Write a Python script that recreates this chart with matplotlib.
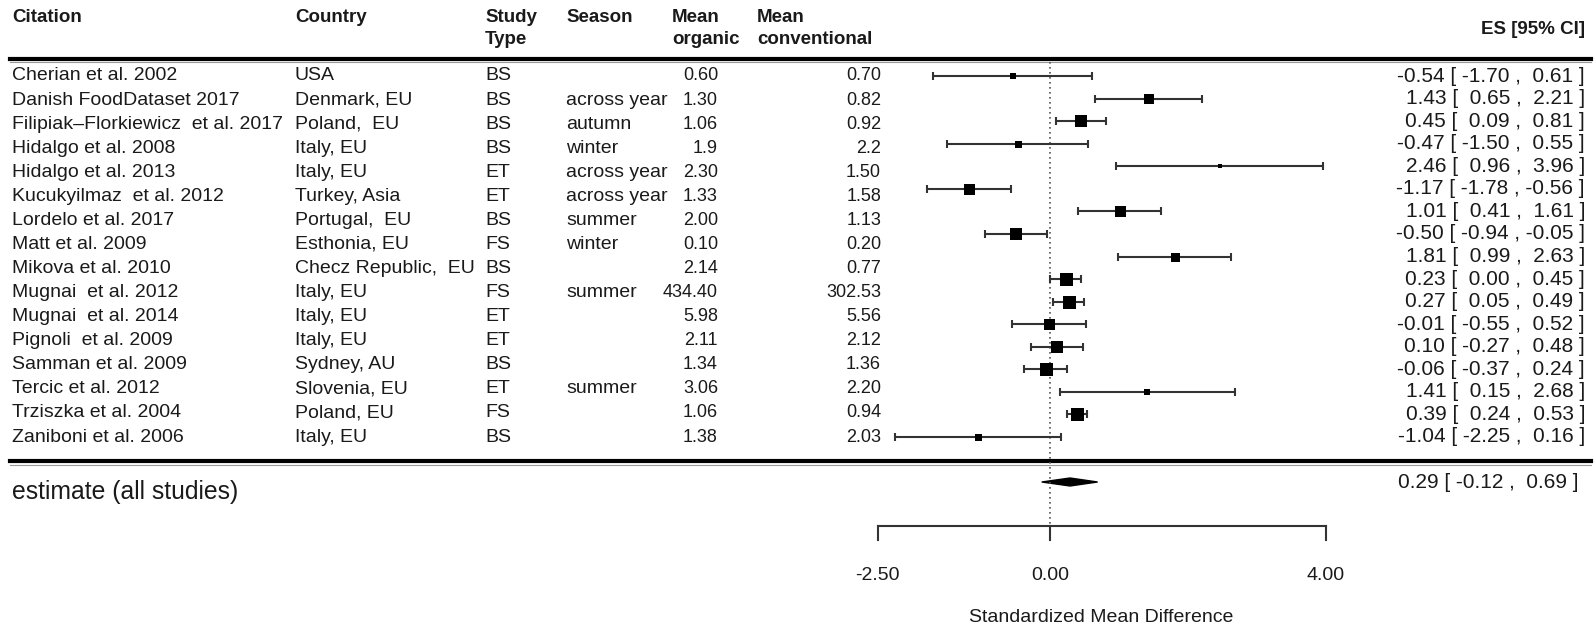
import matplotlib

matplotlib.use('Agg')
import matplotlib.pyplot as plt
from matplotlib.patches import Polygon
from matplotlib import font_manager

plt.rcParams['font.family'] = ['Liberation Sans', 'DejaVu Sans']

# ---- data ----
citation = ['Cherian et al. 2002', 'Danish FoodDataset 2017',
            'Filipiak\u2013Florkiewicz  et al. 2017', 'Hidalgo et al. 2008',
            'Hidalgo et al. 2013', 'Kucukyilmaz  et al. 2012',
            'Lordelo et al. 2017', 'Matt et al. 2009', 'Mikova et al. 2010',
            'Mugnai  et al. 2012', 'Mugnai  et al. 2014', 'Pignoli  et al. 2009',
            'Samman et al. 2009', 'Tercic et al. 2012', 'Trziszka et al. 2004',
            'Zaniboni et al. 2006']
country = ['USA', 'Denmark, EU', 'Poland,  EU', 'Italy, EU', 'Italy, EU',
           'Turkey, Asia', 'Portugal,  EU', 'Esthonia, EU',
           'Checz Republic,  EU', 'Italy, EU', 'Italy, EU', 'Italy, EU',
           'Sydney, AU', 'Slovenia, EU', 'Poland, EU', 'Italy, EU']
study_type = ['BS', 'BS', 'BS', 'BS', 'ET', 'ET', 'BS', 'FS', 'BS', 'FS',
              'ET', 'ET', 'BS', 'ET', 'FS', 'BS']
season = ['', 'across year', 'autumn', 'winter', 'across year', 'across year',
          'summer', 'winter', '', 'summer', '', '', '', 'summer', '', '']
mean_organic = ['0.60', '1.30', '1.06', '1.9', '2.30', '1.33', '2.00', '0.10',
                '2.14', '434.40', '5.98', '2.11', '1.34', '3.06', '1.06', '1.38']
mean_conventional = ['0.70', '0.82', '0.92', '2.2', '1.50', '1.58', '1.13',
                     '0.20', '0.77', '302.53', '5.56', '2.12', '1.36', '2.20',
                     '0.94', '2.03']

es = [-0.54, 1.43, 0.45, -0.47, 2.46, -1.17, 1.01, -0.50, 1.81, 0.23, 0.27,
      -0.01, 0.10, -0.06, 1.41, 0.39, -1.04]
ci_low = [-1.70, 0.65, 0.09, -1.50, 0.96, -1.78, 0.41, -0.94, 0.99, 0.00,
          0.05, -0.55, -0.27, -0.37, 0.15, 0.24, -2.25]
ci_high = [0.61, 2.21, 0.81, 0.55, 3.96, -0.56, 1.61, -0.05, 2.63, 0.45,
           0.49, 0.52, 0.48, 0.24, 2.68, 0.53, 0.16]

summary_es, summary_low, summary_high = 0.29, -0.12, 0.69
axis_ticks = [-2.50, 0.00, 4.00]

# box side in pixels (study weight)
box_px = [6, 10, 12, 7, 5, 11, 11, 12, 9, 13, 13, 11, 12, 13, 6, 13, 7]

# ---- layout ----
W, H = 1596, 628
X0, PX_UNIT = 1050, 69.0     # pixel of ES=0, pixels per unit


def px2x(p):
    return (p - X0) / PX_UNIT


def fmt_num(v):
    # positive numbers get a leading pad so the columns line up
    return '%.2f' % v if v < 0 else ' %.2f' % v


# narrow font for the mean columns if it is there
installed = {f.name for f in font_manager.fontManager.ttflist}
narrow = 'Liberation Sans Narrow' in installed
print('narrow font:', narrow)

fig = plt.figure(figsize=(W / 100, H / 100), dpi=100)
ax = fig.add_axes([0, 0, 1, 1])
ax.set_xlim(px2x(0), px2x(W))
ax.set_ylim(H, 0)
ax.axis('off')

txt = '#1a1a1a'
fs = 14
fs_es = 15
first_row, last_row = 76, 437
n_es = len(es)
y_es = [first_row + i * (last_row - first_row) / (n_es - 1) for i in range(n_es)]
n_tab = len(citation)
y_tab = [first_row + i * (last_row - first_row) / (n_tab - 1) for i in range(n_tab)]

# header
hdr = dict(fontsize=13.5, fontweight='bold', color=txt, va='center')
ax.text(px2x(12), 18, 'Citation', ha='left', **hdr)
ax.text(px2x(295), 18, 'Country', ha='left', **hdr)
ax.text(px2x(485), 18, 'Study', ha='left', **hdr)
ax.text(px2x(485), 39, 'Type', ha='left', **hdr)
ax.text(px2x(566), 18, 'Season', ha='left', **hdr)
ax.text(px2x(672), 18, 'Mean', ha='left', **hdr)
ax.text(px2x(672), 39, 'organic', ha='left', **hdr)
ax.text(px2x(757), 18, 'Mean', ha='left', **hdr)
ax.text(px2x(757), 39, 'conventional', ha='left', **hdr)
ax.text(px2x(1585), 30, 'ES [95% CI]', ha='right', **hdr)

# horizontal rules
ax.axhline(59, xmin=10 / W, xmax=1591 / W, color='black', lw=3)
ax.axhline(62, xmin=10 / W, xmax=1591 / W, color='#999999', lw=0.8)
ax.axhline(461, xmin=10 / W, xmax=1591 / W, color='black', lw=3)
ax.axhline(465, xmin=10 / W, xmax=1591 / W, color='#999999', lw=0.8)

# table
row = dict(fontsize=fs, color=txt, va='center')
if narrow:
    num = dict(fontsize=14, color=txt, va='center',
               family=['Liberation Sans Narrow', 'Liberation Sans'])
else:
    num = dict(fontsize=13, color=txt, va='center')
for i, y in enumerate(y_tab):
    ax.text(px2x(12), y, citation[i], ha='left', **row)
    ax.text(px2x(295), y, country[i], ha='left', **row)
    ax.text(px2x(485), y, study_type[i], ha='left', **row)
    ax.text(px2x(566), y, season[i], ha='left', **row)
    ax.text(px2x(718), y, mean_organic[i], ha='right', **num)
    ax.text(px2x(881), y, mean_conventional[i], ha='right', **num)

# reference line at 0
ax.plot([0, 0], [62, 526], color='#555555', lw=1.2, ls=(0, (1, 2)))

# forest
for i, y in enumerate(y_es):
    ax.errorbar(es[i], y, xerr=[[es[i] - ci_low[i]], [ci_high[i] - es[i]]],
                fmt='none', ecolor='#333333', elinewidth=1.5, capsize=3,
                capthick=1.5)
    ax.plot(es[i], y, marker='s', color='black', ms=box_px[i] * 0.72, mew=0)
    ax.text(px2x(1585), y,
            '%.2f [ %s , %s ]' % (es[i], fmt_num(ci_low[i]), fmt_num(ci_high[i])),
            ha='right', va='center', fontsize=fs_es, color=txt)

# summary
yd = 482
ax.add_patch(Polygon([[summary_low, yd], [summary_es, yd - 4],
                      [summary_high, yd], [summary_es, yd + 4]],
                     closed=True, color='black'))
ax.text(px2x(12), 492, 'estimate (all studies)', ha='left', va='center',
        fontsize=17.8, color=txt)
ax.text(px2x(1578), 482,
        '%.2f [ %s , %s ]' % (summary_es, fmt_num(summary_low),
                              fmt_num(summary_high)),
        ha='right', va='center', fontsize=fs_es, color=txt)

# x axis bracket
ya = 526
ax.plot([axis_ticks[0], axis_ticks[-1]], [ya, ya], color='#333333', lw=1.5)
for t in axis_ticks:
    ax.plot([t, t], [ya, ya + 14], color='#333333', lw=1.5)
    ax.text(t, 575, '%.2f' % t, ha='center', va='center', fontsize=fs, color=txt)
ax.text(0.74, 617, 'Standardized Mean Difference',
        ha='center', va='center', fontsize=14, color=txt)

fig.savefig('out.png', dpi=100)
